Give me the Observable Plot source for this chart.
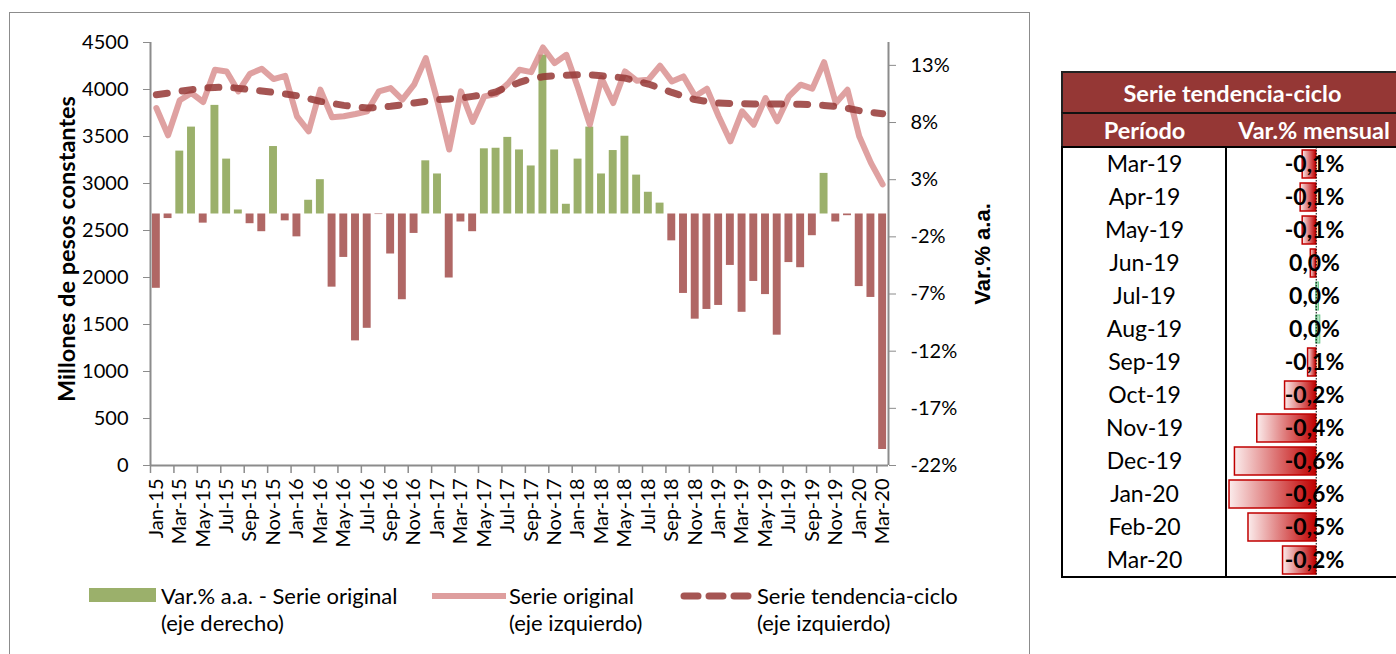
<!DOCTYPE html>
<html><head><meta charset="utf-8">
<script src="https://cdn.jsdelivr.net/npm/d3@7"></script>
<script src="https://cdn.jsdelivr.net/npm/@observablehq/plot@0.6"></script>
<style>
body{margin:0;width:1396px;height:654px;position:relative;overflow:hidden;background:#fff;font-family:Lato,sans-serif;}
#box{position:absolute;left:9px;top:12px;width:1021px;height:700px;border:1.5px solid #8c8c8c;box-sizing:border-box}
#chart{position:absolute;left:0;top:0;width:1040px}
#chart svg,#tbl svg{max-width:none}
.leg{position:absolute;font-size:22px;line-height:22px;color:#000;white-space:nowrap}
.hd{position:absolute;background:#953735;color:#fff;font-weight:bold;text-align:center;box-sizing:border-box;white-space:nowrap}
.ln{position:absolute;background:#000}
#tbl{position:absolute;left:1061px;top:147px;width:342px}
</style></head>
<body>
<svg width="0" height="0" style="position:absolute">
<defs>
<linearGradient id="gNeg" x1="0" x2="1" y1="0" y2="0"><stop offset="0" stop-color="#fbecec"/><stop offset="1" stop-color="#c00000"/></linearGradient>
<linearGradient id="gPos" x1="0" x2="1" y1="0" y2="0"><stop offset="0" stop-color="#63c384"/><stop offset="1" stop-color="#e3f4e8"/></linearGradient>
</defs></svg>
<div id="box"></div>
<div id="chart"></div>

<div class="leg" style="left:89px;top:588px;width:67px;height:14px;background:#9bb06b"></div>
<div class="leg" style="left:161px;top:585px">Var.% a.a. - Serie original</div>
<div class="leg" style="left:161px;top:612px">(eje derecho)</div>
<svg class="leg" style="left:428px;top:585px" width="82" height="22"><line x1="4" x2="78" y1="11" y2="11" stroke="#d68686" stroke-opacity="0.8" stroke-width="6"/></svg>
<div class="leg" style="left:509px;top:585px">Serie original</div>
<div class="leg" style="left:509px;top:612px">(eje izquierdo)</div>
<svg class="leg" style="left:676px;top:585px" width="82" height="22"><line x1="8" x2="78" y1="11" y2="11" stroke="#953735" stroke-opacity="0.85" stroke-width="7" stroke-linecap="round" stroke-dasharray="14,11"/></svg>
<div class="leg" style="left:757px;top:585px">Serie tendencia-ciclo</div>
<div class="leg" style="left:757px;top:612px">(eje izquierdo)</div>

<div class="hd" style="left:1061px;top:71px;width:345px;height:42px;border-top:2px solid #222;border-left:2px solid #222;font-size:23.5px;line-height:40px;padding-right:4px">Serie tendencia-ciclo</div>
<div class="hd" style="left:1061px;top:112px;width:167px;height:35px;border-top:2px solid #111;border-left:2px solid #222;border-right:2px solid #111;font-size:23.5px;line-height:33px">Período</div>
<div class="hd" style="left:1226px;top:112px;width:180px;height:35px;border-top:2px solid #111;font-size:23.5px;line-height:33px;padding-right:4px">Var.% mensual</div>
<div class="ln" style="left:1061px;top:146px;width:340px;height:2px"></div>
<div id="tbl"></div>
<div class="ln" style="left:1061px;top:146px;width:2px;height:432px"></div>
<div class="ln" style="left:1225px;top:146px;width:2px;height:432px"></div>
<div class="ln" style="left:1061px;top:576px;width:340px;height:1.5px"></div>

<script>
// ---- data ----
const months = ["Jan-15","Feb-15","Mar-15","Apr-15","May-15","Jun-15","Jul-15","Aug-15","Sep-15","Oct-15","Nov-15","Dec-15",
"Jan-16","Feb-16","Mar-16","Apr-16","May-16","Jun-16","Jul-16","Aug-16","Sep-16","Oct-16","Nov-16","Dec-16",
"Jan-17","Feb-17","Mar-17","Apr-17","May-17","Jun-17","Jul-17","Aug-17","Sep-17","Oct-17","Nov-17","Dec-17",
"Jan-18","Feb-18","Mar-18","Apr-18","May-18","Jun-18","Jul-18","Aug-18","Sep-18","Oct-18","Nov-18","Dec-18",
"Jan-19","Feb-19","Mar-19","Apr-19","May-19","Jun-19","Jul-19","Aug-19","Sep-19","Oct-19","Nov-19","Dec-19",
"Jan-20","Feb-20","Mar-20"];
const varAA = [-6.5,-0.4,5.5,7.6,-0.8,9.5,4.8,0.35,-0.85,-1.55,5.9,-0.6,
-2.0,1.2,3.0,-6.4,-3.8,-11.1,-10.0,-0.05,-3.5,-7.5,-1.7,4.65,
3.5,-5.6,-0.7,-1.55,5.7,5.75,6.7,5.6,4.2,13.9,5.6,0.85,
4.8,7.6,3.5,5.55,6.8,3.4,1.9,0.95,-2.35,-6.95,-9.2,-8.35,
-8.0,-4.5,-8.6,-5.9,-7.05,-10.6,-4.25,-4.7,-1.9,3.55,-0.7,-0.15,
-6.35,-7.3,-20.6];
const original = [3803,3513,3885,3962,3867,4210,4192,3980,4168,4221,4111,4146,
3715,3555,3998,3704,3715,3739,3768,3980,4015,3892,4051,4334,
3874,3361,3980,3654,3927,3952,4060,4210,4185,4447,4280,4369,
4015,3626,4121,3856,4192,4094,4104,4253,4086,4139,3927,4009,
3715,3449,3768,3626,3909,3662,3927,4051,4009,4291,3856,3998,
3502,3219,2990];
const trend = [3945,3962,3980,3998,4015,4022,4026,4012,3998,3984,3969,3952,
3934,3904,3874,3852,3831,3815,3803,3810,3821,3838,3856,3874,
3892,3900,3909,3927,3945,3975,4030,4075,4115,4135,4146,4152,
4157,4155,4146,4135,4121,4092,4058,4015,3969,3928,3892,3872,
3856,3852,3849,3847,3845,3845,3845,3842,3839,3831,3821,3800,
3775,3757,3743];
const leftTicks = [0,500,1000,1500,2000,2500,3000,3500,4000,4500];
const rightTicks = [13,8,3,-2,-7,-12,-17,-22];
const rightDomain = [-22,15];
const tickMonths = months.filter((m,i)=>i%2===0);
const periods = ["Mar-19","Apr-19","May-19","Jun-19","Jul-19","Aug-19","Sep-19","Oct-19","Nov-19","Dec-19","Jan-20","Feb-20","Mar-20"];
const tcVar = [-0.10,-0.115,-0.10,-0.04,0.02,0.03,-0.06,-0.23,-0.435,-0.60,-0.64,-0.50,-0.245];

// ---- main chart ----
const f = p => (p - rightDomain[0]) * 4500 / (rightDomain[1]-rightDomain[0]);
const inv = v => v * (rightDomain[1]-rightDomain[0]) / 4500 + rightDomain[0];
const W = 1040, H = 560, ML = 150, MR = 152, MT = 42, MB = 95;
const step = (W - ML - MR) / months.length;
const data = months.map((m,i)=>({m, v: varAA[i], o: original[i], t: trend[i]}));
const axisGray = "#8c8c8c";

const chart = Plot.plot({
  width: W, height: H, marginLeft: ML, marginRight: MR, marginTop: MT, marginBottom: MB,
  x: {type: "band", domain: months, padding: 0},
  y: {domain: [0, 4500]},
  style: {fontFamily: "Lato", fontSize: "20px", color: "#000", background: "transparent", overflow: "visible", maxWidth: "none"},
  marks: [
    Plot.barY(data.filter(d=>d.v>=0), {x: "m", y1: d=>f(0), y2: d=>f(d.v), fill: "#9bb06b", insetLeft: 1.9, insetRight: 1.9}),
    Plot.barY(data.filter(d=>d.v<0), {x: "m", y1: d=>f(0), y2: d=>f(d.v), fill: "#b06765", insetLeft: 1.9, insetRight: 1.9}),
    Plot.ruleY([0], {stroke: axisGray, strokeWidth: 2}),
    Plot.ruleX([months[0]], {x: d=>d, y1: d=>0, y2: d=>4500, dx: -step/2, stroke: axisGray, strokeWidth: 2}),
    Plot.ruleX([months[months.length-1]], {x: d=>d, y1: d=>0, y2: d=>4500, dx: step/2, stroke: axisGray, strokeWidth: 2}),
    Plot.ruleX(tickMonths, {x: d=>d, y1: d=>0, y2: d=>-85, dx: -step/2, stroke: axisGray, strokeWidth: 1.5}),
    Plot.axisX(tickMonths, {tickSize: 0, tickRotate: -90, tickPadding: 13, fill: "#000", label: null}),
    Plot.axisY(leftTicks, {anchor: "left", tickSize: 7, tickPadding: 15, stroke: axisGray, fill: "#000", tickFormat: d => String(d), label: null}),
    Plot.axisY(rightTicks.map(f), {anchor: "right", tickSize: 7, tickPadding: 15, stroke: axisGray, fill: "#000", tickFormat: v => Math.round(inv(v)) + "%", label: null}),
    Plot.line(data, {x: "m", y: "o", stroke: "#d68686", strokeOpacity: 0.78, strokeWidth: 6, strokeLinejoin: "round"}),
    Plot.line(data, {x: "m", y: "t", stroke: "#953735", strokeOpacity: 0.85, strokeWidth: 7, strokeLinecap: "round", strokeDasharray: "11,15"}),
    Plot.text(["Millones de pesos constantes"], {text: d=>d, frameAnchor: "left", textAnchor: "middle", dx: -83, dy: -5, rotate: -90, fontWeight: "bold", fontSize: 23.5}),
    Plot.text(["Var.% a.a."], {text: d=>d, frameAnchor: "right", textAnchor: "middle", dx: 94, rotate: -90, fontWeight: "bold", fontSize: 22, fontFamily: "Liberation Sans"})
  ]
});
document.getElementById("chart").appendChild(chart);

// ---- table ----
const rows = periods.map((p,i)=>({p, v: tcVar[i]}));
const fmt = v => { const r = Math.round(v*10)/10; return (r === 0 ? 0 : r).toFixed(1).replace(".", ",") + "%"; };
const tbl = Plot.plot({
  width: 342, height: 430, marginTop: 0, marginBottom: 0, marginLeft: 0, marginRight: 0,
  x: {domain: [-1.88, 0.644], axis: null},
  y: {type: "band", domain: periods, paddingInner: 0.16, paddingOuter: 0.08, axis: null},
  style: {fontFamily: "Lato", background: "transparent", overflow: "visible", maxWidth: "none"},
  marks: [
    Plot.barX(rows.filter(d=>d.v<0), {x1: d=>0, x2: "v", y: "p", fill: "url(#gNeg)", stroke: "#c00000", strokeWidth: 1.5}),
    Plot.barX(rows.filter(d=>d.v>=0), {x1: d=>0, x2: "v", y: "p", fill: "url(#gPos)", stroke: "#63c384", strokeWidth: 1}),
    Plot.ruleX([0], {stroke: "#000", strokeWidth: 1, strokeDasharray: "1.5,1.5"}),
    Plot.text(rows, {y: "p", text: "p", frameAnchor: "left", textAnchor: "middle", dx: 83, fontSize: 23, fill: "#000"}),
    Plot.text(rows, {y: "p", text: d=>fmt(d.v), frameAnchor: "left", textAnchor: "middle", dx: 253, fontSize: 23, fontWeight: "bold", fill: "#000"})
  ]
});
document.getElementById("tbl").appendChild(tbl);
</script>
</body></html>
